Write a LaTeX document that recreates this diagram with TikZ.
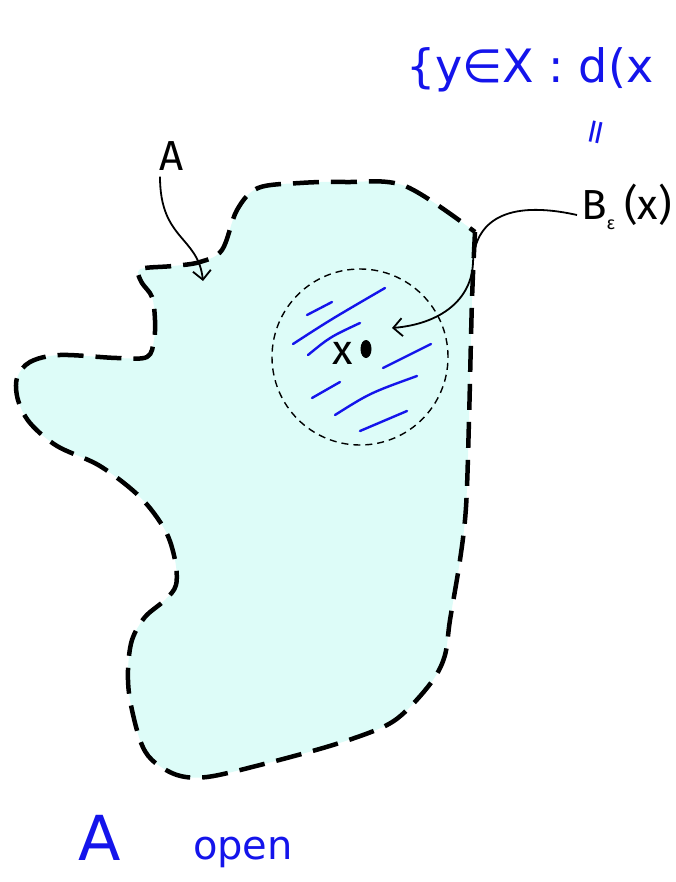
\documentclass[tikz,border=0pt]{standalone}
\usepackage{fontspec}
\setmainfont{Fira Sans}
\newfontfamily\hand{DejaVu Sans}
\usetikzlibrary{arrows.meta}
\definecolor{regionfill}{RGB}{221,252,248}
\definecolor{ink}{RGB}{20,20,235}
\begin{document}
\begin{tikzpicture}[x=1pt,y=-1pt,
  boundary/.style={line width=4.5pt, dash pattern=on 26pt off 12pt, fill=regionfill},
  ball/.style={line width=1.4pt, dash pattern=on 7pt off 5pt},
  pointer/.style={line width=1.8pt, -{Straight Barb[length=9pt,width=18pt]}},
  hatch/.style={ink, line width=2.4pt, line cap=round},
  label/.style={font=\fontsize{42}{44}\selectfont, inner sep=0pt},
  handnote/.style={ink, font=\hand\fontsize{46}{48}\selectfont, inner sep=0pt}]
\useasboundingbox (0,0) rectangle (675,882);

% region A
\path[boundary, draw] plot[smooth, tension=0.55] coordinates {
  (475,232) (472,300) (469,420) (466,507) (460,560) (450,620) (445,655)
  (433,680) (407,710) (383,727) (333,745) (260,765) (207,777) (177,775)
  (152,760) (140,740) (130,700) (128,670) (132,640) (145,617) (165,600)
  (176,585) (175,560) (165,530) (140,497) (100,466) (57,446) (30,423)
  (18,400) (17,378) (30,362) (60,355) (117,358) (147,357) (154,340)
  (155,320) (152,297) (142,283) (138,272) (145,268) (173,266) (200,262)
  (222,250) (237,210) (258,188) (300,183) (345,182) (405,186) (475,232)} -- cycle;

% ball
\node[draw, ball, circle, minimum size=176pt, inner sep=0pt] (ball) at (360,357) {};
\draw[hatch] (307,315) -- (332,302);
\draw[hatch] (293,344) .. controls (330,320) .. (385,288);
\draw[hatch] (308,355) .. controls (330,337) .. (360,323);
\draw[hatch] (383,368) -- (431,344);
\draw[hatch] (312,398) -- (340,382);
\draw[hatch] (335,415) .. controls (370,393) .. (417,376);
\draw[hatch] (360,431) -- (407,411);

\fill (366,349) ellipse (5.5pt and 9pt);
\node[label] (xlab) at (343,353) {x};

% labels
\node[label] (Alab) at (172,156) {A};
\coordinate (Atip) at (203,281);
\draw[pointer] ([xshift=-12pt,yshift=-6pt]Alab.south) .. controls (160,240) and (198,236) .. (Atip);

\node[label, anchor=west] (Blab) at (581,207) {B\raisebox{-10pt}{\fontsize{18}{18}\selectfont ε}\hspace{9pt}(x)};
\coordinate (Btip) at (392,328);
\draw[pointer] ([xshift=-4pt,yshift=-8pt]Blab.west) .. controls (505,199) and (475,222) .. (473,262)
  .. controls (472,300) and (440,324) .. (Btip);

% handwritten notes
\node[handnote, anchor=west] (set) at (406,70) {\{y∈X : d(x};
\node[ink, font=\hand\fontsize{34}{34}\selectfont, rotate=78, inner sep=0pt] (eq) at (599,133) {=};
\node[handnote, font=\hand\fontsize{62}{62}\selectfont] (Anote) at (100,838) {A};
\node[handnote, font=\hand\fontsize{40}{40}\selectfont] (open) at (243,852) {open};
\end{tikzpicture}
\end{document}
